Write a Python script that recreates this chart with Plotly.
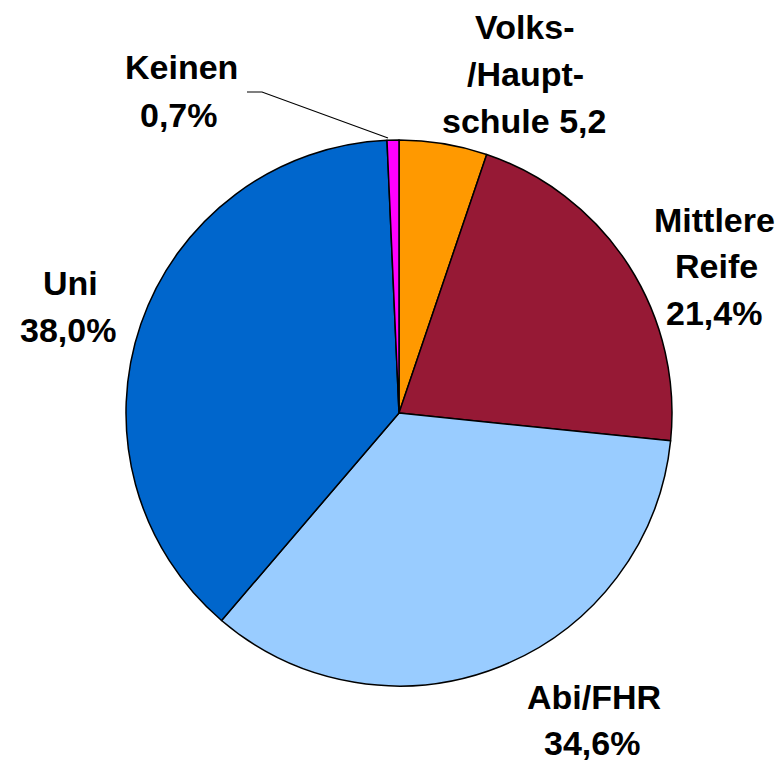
import plotly.graph_objects as go

W, H = 781, 763

categories = ["Volks-/Hauptschule", "Mittlere Reife", "Abi/FHR", "Uni", "Keinen"]
values = [5.2, 21.4, 34.6, 38.0, 0.7]
colors = ["#FF9900", "#961935", "#99CCFF", "#0066CC", "#FF00FF"]

# label text lines, with their centre positions in pixels
label_lines = [
    ["Volks-", "/Haupt-", "schule 5,2"],
    ["Mittlere", "Reife", "21,4%"],
    ["Abi/FHR", "34,6%"],
    ["Uni", "38,0%"],
    ["Keinen", "0,7%"],
]
label_pos = [
    [(525, 27), (525, 74), (524, 121)],
    [(714, 220), (716, 266), (714, 313)],
    [(594, 697), (592, 743)],
    [(70, 283), (68, 330)],
    [(181, 67), (179, 115)],
]

fig = go.Figure()
fig.add_trace(go.Pie(
    labels=categories,
    values=values,
    sort=False,
    direction="clockwise",
    rotation=0,
    marker=dict(colors=colors, line=dict(color="black", width=1.5)),
    textinfo="none",
    hoverinfo="label+value",
    showlegend=False,
    domain=dict(x=[126 / W, 672 / W], y=[(H - 686) / H, (H - 140) / H]),
))

for lines, poss in zip(label_lines, label_pos):
    for t, (px, py) in zip(lines, poss):
        fig.add_annotation(
            x=px / W, y=1 - py / H, xref="paper", yref="paper",
            text=t, showarrow=False, xanchor="center", yanchor="middle",
            font=dict(family="Liberation Sans, Arial, sans-serif", size=34,
                      color="black", weight="bold"),
        )

# leader line for "Keinen"
fig.add_shape(type="path", xref="paper", yref="paper",
              path=f"M {247/W},{1-92/H} L {262/W},{1-92/H} L {388/W},{1-138/H}",
              line=dict(color="black", width=1.2))

fig.update_layout(
    width=W, height=H,
    margin=dict(l=0, r=0, t=0, b=0),
    paper_bgcolor="white", plot_bgcolor="white",
)

fig.write_html("out.html", config={"displayModeBar": False},
               post_script="document.body.style.margin='0';document.body.style.padding='0';")
